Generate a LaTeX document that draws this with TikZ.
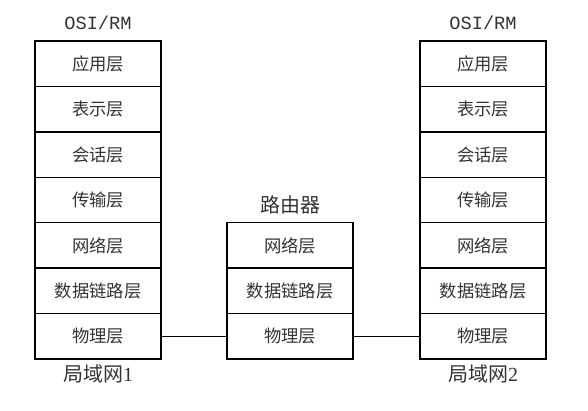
\documentclass[tikz,border=0pt]{standalone}
\usepackage{fontspec}
\setmainfont{Liberation Serif}
\setmonofont{Liberation Mono}
\newfontfamily\cjk{Noto Sans CJK SC}
\usetikzlibrary{positioning}

\begin{document}
\begin{tikzpicture}[x = 0.75pt, y = -0.75pt,
    layer/.style = {draw, line width = 1pt, minimum width = 94.5pt, minimum height = 34.07pt,
        outer sep = 0pt, inner sep = 0pt, text = black!80, font = \cjk\fontsize{13}{15}\selectfont},
    netlabel/.style = {inner sep = 0pt, text = black!80, font = \cjk\fontsize{15}{18}\selectfont}]
    \useasboundingbox (0,0) rectangle (588,410);
    % OSI/RM 两侧
    \foreach \s/\x/\n in {l/98/1, r/483/2}{
        \node[layer] (\s1) at (\x,63.7) {应用层};
        \node[layer, below = 0pt of \s1] (\s2) {表示层};
        \node[layer, below = 0pt of \s2] (\s3) {会话层};
        \node[layer, below = 0pt of \s3] (\s4) {传输层};
        \node[layer, below = 0pt of \s4] (\s5) {网络层};
        \node[layer, below = 0pt of \s5] (\s6) {数据链路层};
        \node[layer, below = 0pt of \s6] (\s7) {物理层};
        \node[netlabel, above = 8pt of \s1] (\s top) {\ttfamily\fontsize{14}{16}\selectfont OSI/RM};
        \node[netlabel, below = 4pt of \s7] (\s lan) {局域网{\rmfamily\n}};
    }
    % 路由器
    \node[layer] (m5) at (290,0 |- l5) {网络层};
    \node[layer, below = 0pt of m5] (m6) {数据链路层};
    \node[layer, below = 0pt of m6] (m7) {物理层};
    \node[netlabel, above = 6pt of m5] (mtop) {路由器};
    % 连线
    \draw[line width = 1pt] (l7) -- (m7);
    \draw[line width = 1pt] (m7) -- (r7);
\end{tikzpicture}
\end{document}
